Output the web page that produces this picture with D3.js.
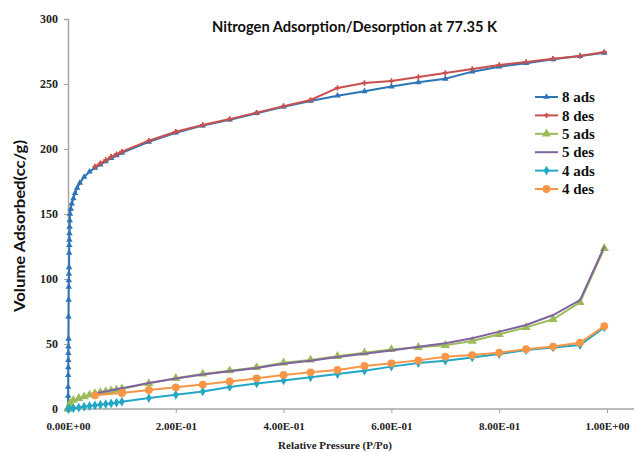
<!DOCTYPE html>
<html>
<head>
<meta charset="utf-8">
<script src="https://cdn.jsdelivr.net/npm/d3@7"></script>
<style>
  body { margin: 0; background: #fff; }
</style>
</head>
<body>
<script>
// series values, [relative pressure, volume]
let ads8 = [[0.0001,0],[0.0002,10],[0.0003,17],[0.0004,26],[0.0005,32],[0.0006,37.5],[0.0007,43],[0.0008,48],[0.0009,54],
  [0.001,71],[0.0012,84],[0.0014,94],[0.0016,99],[0.0018,104],[0.002,109],[0.0022,120],[0.0024,126],[0.0026,130],
  [0.0028,135],[0.003,140],[0.0033,145],[0.0037,150],[0.005,154],[0.007,158],[0.01,162],[0.013,166],[0.017,170],
  [0.022,174],[0.03,178.5],[0.04,182.5],[0.05,185.5],[0.06,188],[0.07,190.5],[0.08,193],[0.09,195],[0.1,197],
  [0.15,205.5],[0.2,212.5],[0.25,218],[0.3,222.5],[0.35,227.5],[0.4,232.5],[0.45,237],[0.5,241],[0.55,244.4],
  [0.6,248],[0.65,251.3],[0.7,254],[0.75,259.5],[0.8,263.3],[0.85,266],[0.9,269],[0.95,271.5],[0.995,274]];
let des8 = [[0.995,274.6],[0.95,271.5],[0.9,269.5],[0.85,267],[0.8,264.6],[0.75,261.5],[0.7,258.5],[0.65,255.4],
  [0.6,252.3],[0.55,250.8],[0.5,247],[0.45,237.7],[0.4,233],[0.35,228],[0.3,223],[0.25,218.5],[0.2,213.3],
  [0.15,206.4],[0.1,198],[0.09,196],[0.08,194],[0.07,191.5],[0.06,189],[0.05,186.5]];
let ads5 = [[0.0005,0],[0.002,2],[0.004,4.5],[0.01,6.8],[0.02,8.2],[0.03,9.5],[0.04,10.8],[0.05,12],[0.06,12.7],
  [0.07,13.4],[0.08,14.1],[0.09,14.8],[0.1,15.6],[0.15,19.7],[0.2,23.6],[0.25,27],[0.3,29.5],[0.35,32],[0.4,35.5],
  [0.45,37.7],[0.5,40.5],[0.55,43.2],[0.6,45.8],[0.65,47.5],[0.7,49],[0.75,52.3],[0.8,57.5],[0.85,62.8],[0.9,69],
  [0.95,82],[0.995,123.6]];
let des5 = [[0.995,124.9],[0.95,83.8],[0.9,72.3],[0.85,64.6],[0.8,59.5],[0.75,54.4],[0.7,50.5],[0.65,47.8],[0.6,45],
  [0.55,42.5],[0.5,40],[0.45,37.2],[0.4,34.8],[0.35,31.5],[0.3,29],[0.25,26.5],[0.2,23.5],[0.15,20],[0.1,16],[0.05,12]];
let ads4 = [[0.0005,0],[0.002,0.3],[0.01,0.6],[0.02,1.1],[0.03,1.7],[0.04,2.3],[0.05,2.8],[0.06,3.3],[0.07,3.8],
  [0.08,4.3],[0.09,4.9],[0.1,5.6],[0.15,8.4],[0.2,10.9],[0.25,13.5],[0.3,17],[0.35,19.7],[0.4,22],[0.45,24.4],
  [0.5,26.9],[0.55,29.5],[0.6,32.6],[0.65,35.3],[0.7,37.2],[0.75,39.7],[0.8,42.3],[0.85,45.4],[0.9,47.4],
  [0.95,49.2],[0.995,62.8]];
let des4 = [[0.995,63.8],[0.95,51],[0.9,48],[0.85,46],[0.8,43.3],[0.75,41.5],[0.7,40.2],[0.65,37.4],[0.6,35.1],
  [0.55,33.1],[0.5,30],[0.45,28.2],[0.4,26.2],[0.35,23.6],[0.3,21.2],[0.25,18.8],[0.2,16.7],[0.15,14.6],[0.1,12.3],
  [0.05,10.5]];

let seriesNames = ["8 ads", "8 des", "5 ads", "5 des", "4 ads", "4 des"];
let seriesData = [ads8, des8, ads5, des5, ads4, des4];
let xTicks = [0, 0.2, 0.4, 0.6, 0.8, 1.0];
let xTickLabels = ["0.00E+00", "2.00E-01", "4.00E-01", "6.00E-01", "8.00E-01", "1.00E+00"];
let yTicks = [0, 50, 100, 150, 200, 250, 300];

let width = 634,
  height = 453;

let colors = ["#2e75b6", "#c9504d", "#9bbb59", "#8064a2", "#22a8c6", "#f79646"];
let symbols = [
  { type: d3.symbolTriangle, size: 18 },
  { type: d3.symbolCross, size: 16 },
  { type: d3.symbolTriangle, size: 36 },
  null,
  { type: d3.symbolDiamond, size: 28 },
  { type: d3.symbolCircle, size: 48 }
];

let x = d3.scaleLinear().domain([0, 1]).range([68, 607]);
let y = d3.scaleLinear().domain([0, 300]).range([409, 19]);

let svg = d3.select("body").append("svg")
  .attr("width", width)
  .attr("height", height);

// axes
let xAxis = d3.axisBottom(x)
  .tickValues(xTicks)
  .tickSize(4)
  .tickFormat((d, i) => xTickLabels[i]);
let gx = svg.append("g")
  .attr("transform", `translate(0, ${y(0)})`)
  .call(xAxis);
gx.select(".domain").remove();
gx.append("line")
  .attr("x1", x(0)).attr("x2", width)
  .attr("stroke", "#a6a6a6").attr("stroke-width", 1.5);

let yAxis = d3.axisLeft(y)
  .tickValues(yTicks)
  .tickSize(4)
  .tickPadding(6);
let gy = svg.append("g")
  .attr("transform", `translate(${x(0)}, 0)`)
  .call(yAxis);
gy.select(".domain")
  .attr("stroke", "#a6a6a6").attr("stroke-width", 1.5);

svg.selectAll(".tick line").attr("stroke", "#a6a6a6");
svg.selectAll(".tick text")
  .attr("font-family", "Liberation Serif")
  .attr("font-weight", "bold")
  .attr("fill", "#222");
gx.selectAll(".tick text").attr("font-size", 11).attr("dy", "1.3em");
gy.selectAll(".tick text").attr("font-size", 12);

// series
let line = d3.line()
  .x(d => x(d[0]))
  .y(d => y(d[1]));

seriesData.forEach((data, i) => {
  let sorted = data.slice().sort((a, b) => a[0] - b[0]);
  let g = svg.append("g").attr("class", "series");
  g.append("path")
    .datum(sorted)
    .attr("fill", "none")
    .attr("stroke", colors[i])
    .attr("stroke-width", 2)
    .attr("d", line);
  if (symbols[i]) {
    g.selectAll("path.marker")
      .data(sorted)
      .enter().append("path")
      .attr("class", "marker")
      .attr("transform", d => `translate(${x(d[0])}, ${y(d[1])})`)
      .attr("d", d3.symbol().type(symbols[i].type).size(symbols[i].size))
      .attr("fill", colors[i]);
  }
});

// legend
let legend = svg.append("g")
  .attr("transform", "translate(535, 97)");

seriesNames.forEach((name, i) => {
  let item = legend.append("g")
    .attr("transform", `translate(0, ${i * 18.4})`);
  item.append("line")
    .attr("x1", 0).attr("x2", 23)
    .attr("stroke", colors[i])
    .attr("stroke-width", 2);
  if (symbols[i]) {
    item.append("path")
      .attr("transform", "translate(11.5, 0)")
      .attr("d", d3.symbol().type(symbols[i].type).size(symbols[i].size)())
      .attr("fill", colors[i]);
  }
  item.append("text")
    .attr("x", 27)
    .attr("dy", "0.35em")
    .attr("font-family", "Liberation Serif")
    .attr("font-weight", "bold")
    .attr("font-size", 15)
    .attr("fill", "#111")
    .text(name);
});

// titles
svg.append("text")
  .attr("x", 212).attr("y", 32)
  .attr("font-family", "Lato")
  .attr("font-weight", "bold")
  .attr("font-size", 15)
  .attr("textLength", 285)
  .attr("lengthAdjust", "spacingAndGlyphs")
  .attr("fill", "#111")
  .text("Nitrogen Adsorption/Desorption at 77.35 K");

svg.append("text")
  .attr("transform", "translate(25, 226) rotate(-90)")
  .attr("text-anchor", "middle")
  .attr("font-family", "Lato")
  .attr("font-weight", "bold")
  .attr("font-size", 16)
  .attr("textLength", 172)
  .attr("lengthAdjust", "spacingAndGlyphs")
  .attr("fill", "#111")
  .text("Volume Adsorbed(cc/g)");

svg.append("text")
  .attr("x", 335).attr("y", 449)
  .attr("text-anchor", "middle")
  .attr("font-family", "Liberation Serif")
  .attr("font-weight", "bold")
  .attr("font-size", 11)
  .attr("fill", "#222")
  .text("Relative Pressure (P/Po)");
</script>
</body>
</html>
